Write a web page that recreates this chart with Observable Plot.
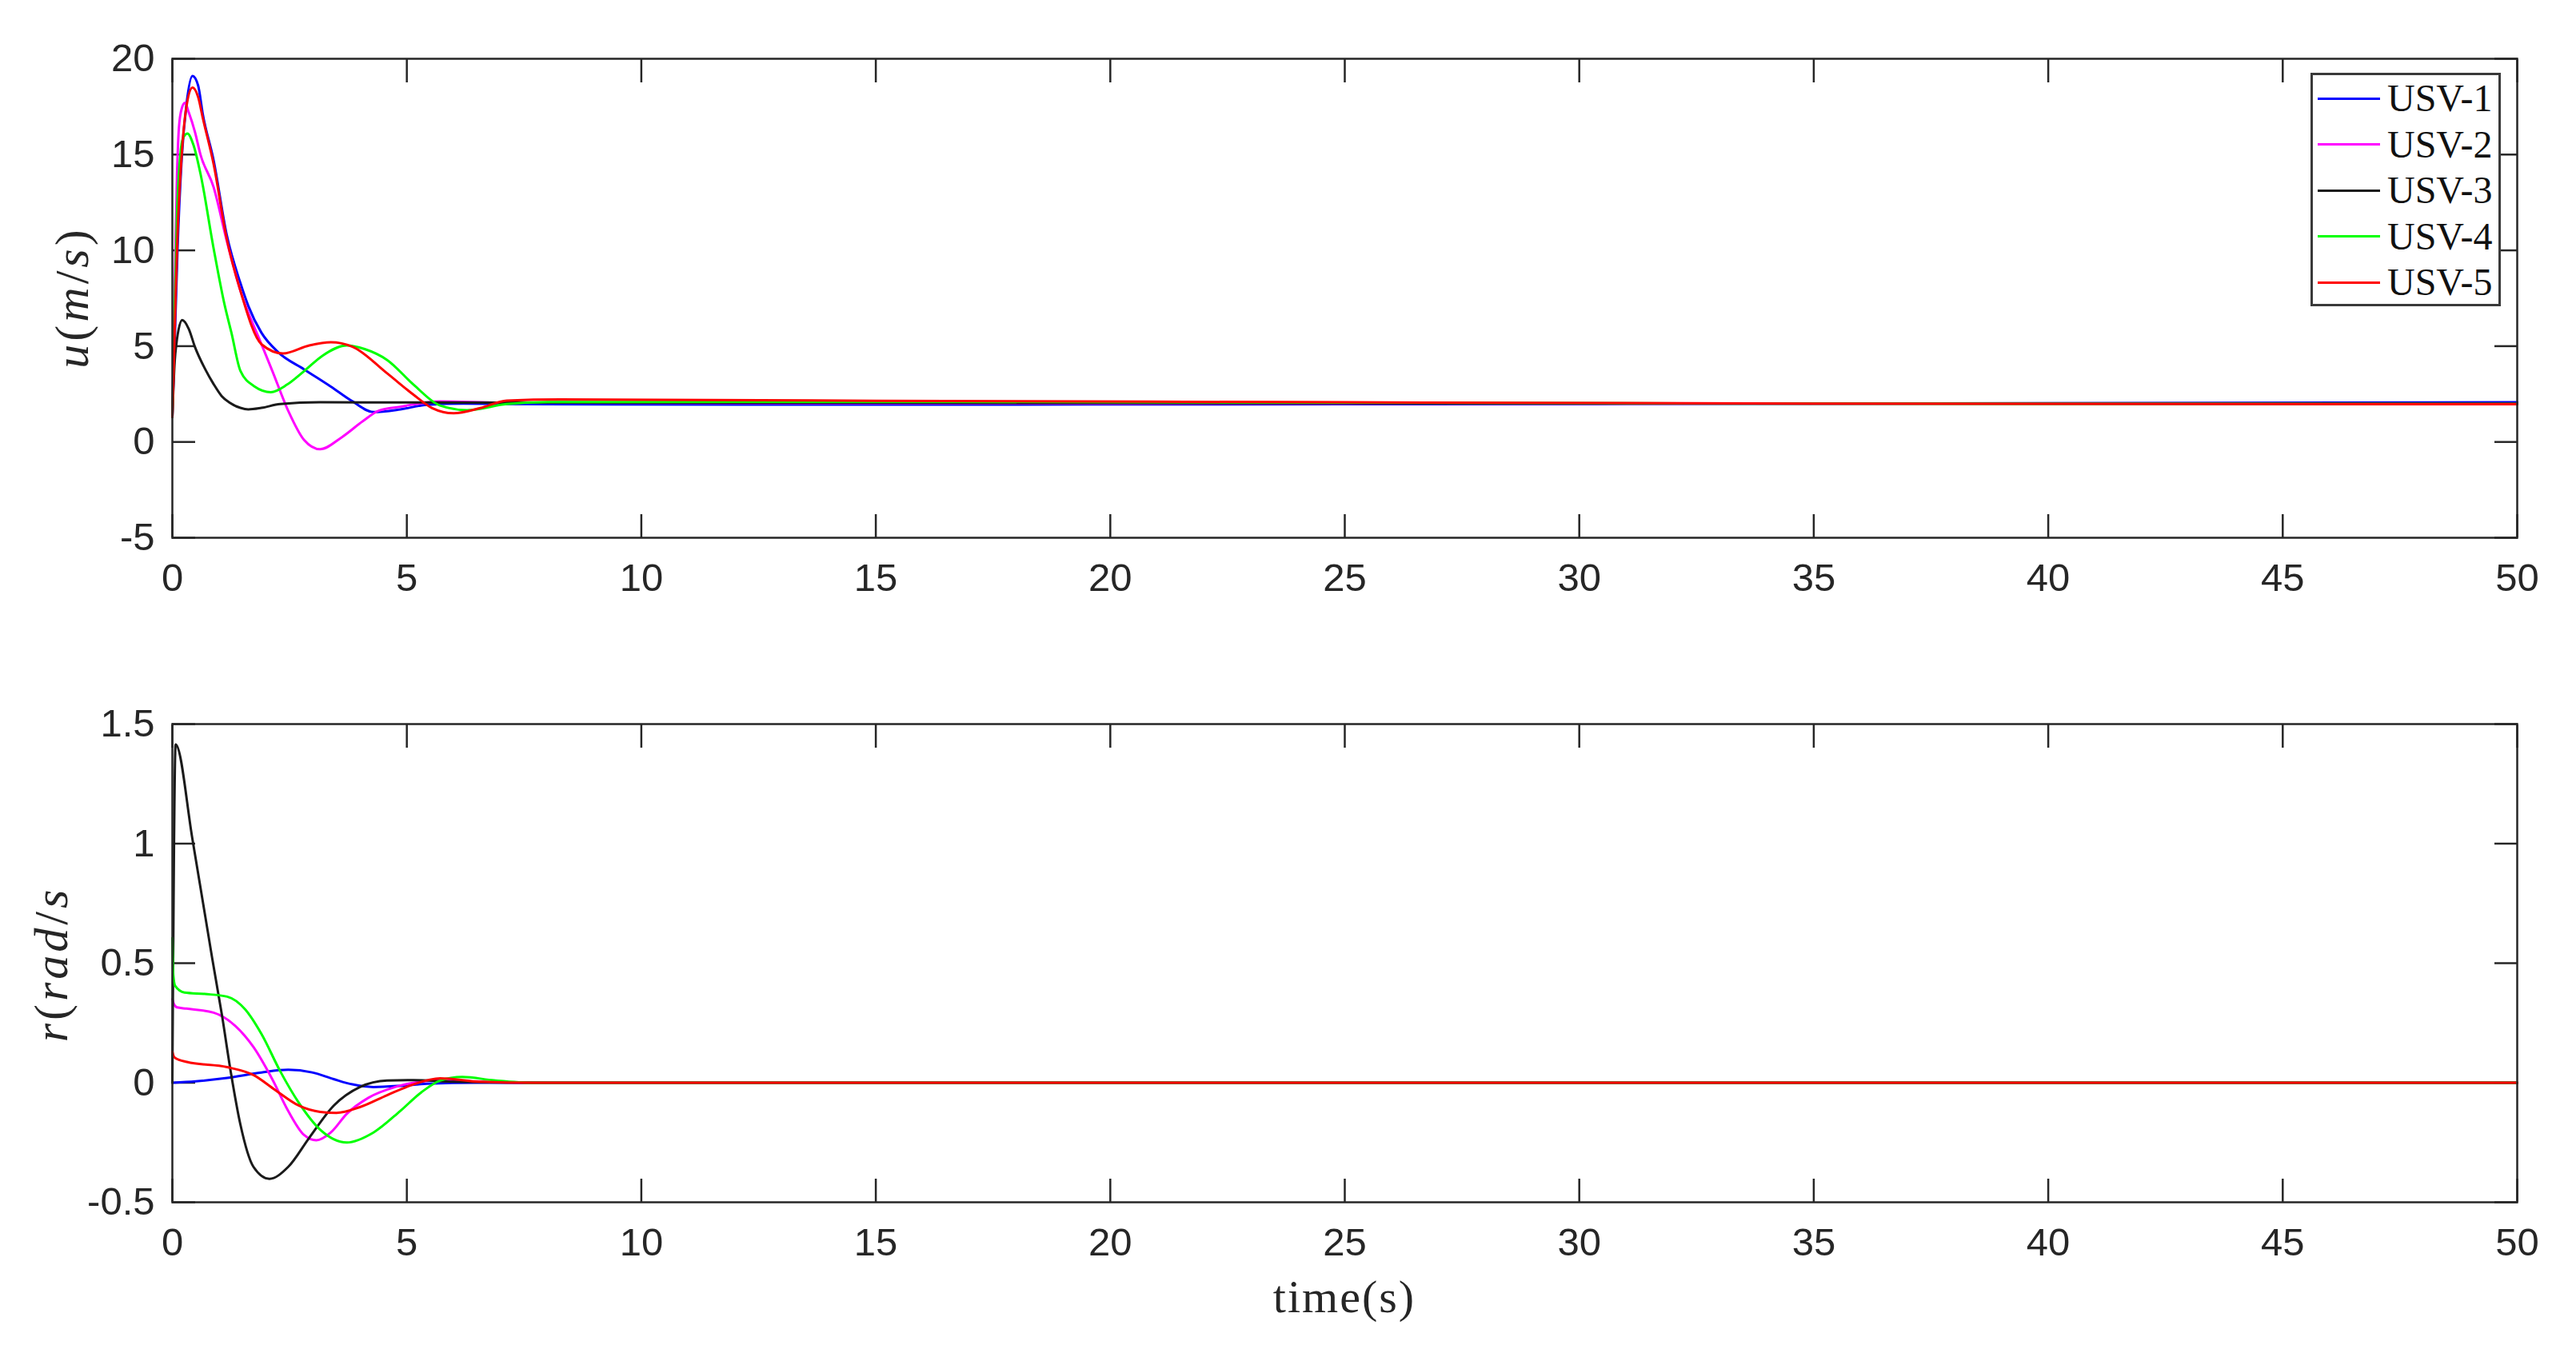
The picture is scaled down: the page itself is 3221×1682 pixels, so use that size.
<!DOCTYPE html>
<html>
<head>
<meta charset="utf-8">
<script src="https://cdn.jsdelivr.net/npm/d3@7"></script>
<script src="https://cdn.jsdelivr.net/npm/@observablehq/plot@0.6"></script>
<style>
  html, body { margin: 0; padding: 0; background: #fff; }
  #root { position: relative; width: 3221px; height: 1682px; overflow: hidden; background: #fff; }
  .panel { position: absolute; left: 0; }
  .ylab { position: absolute; font-family: "Liberation Serif", "Times New Roman", serif; font-size: 60px; color: #262626;
          transform: translate(-50%, -50%) rotate(-90deg); white-space: nowrap; letter-spacing: 4px; line-height: 1; }
  .xlab { position: absolute; font-family: "Liberation Serif", "Times New Roman", serif; font-size: 58px; color: #262626;
          transform: translate(-50%, -50%); white-space: nowrap; letter-spacing: 2px; line-height: 1; }
  #legend { position: absolute; left: 2889px; top: 91px; width: 238px; height: 292px; box-sizing: border-box;
            border: 3px solid #3a3a3a; background: #fff; }
  .lrow { position: absolute; left: 0; height: 50px; display: flex; align-items: center; }
  .lswatch { width: 78px; height: 0; border-top: 3px solid; margin-left: 6px; margin-right: 9px; }
  .ltext { font-family: "Liberation Serif", "Times New Roman", serif; font-size: 48px; color: #111; line-height: 1; }
</style>
</head>
<body>
<div id="root"></div>
<script>
// ---------- data ----------
const names  = ["USV-1", "USV-2", "USV-3", "USV-4", "USV-5"];
const colors = ["#0000ff", "#ff00ff", "#1a1a1a", "#00ff00", "#ff0000"];

const xTicks = [0, 5, 10, 15, 20, 25, 30, 35, 40, 45, 50];
const uTicks = [-5, 0, 5, 10, 15, 20];
const rTicks = [-0.5, 0, 0.5, 1, 1.5];

// surge speed u (m/s)
const u1T = [0, 0.06, 0.11, 0.2, 0.3, 0.43, 0.55, 0.65, 0.88, 1.16, 1.45, 1.62, 1.9, 2.25, 2.81, 3.38, 3.84, 4.29, 4.86, 5.43, 6.2, 8, 15, 25, 35, 50];
const u1V = [1.3, 6.0, 10.0, 14.8, 17.6, 19.1, 18.6, 17.1, 14.7, 10.8, 8.3, 7.1, 5.7, 4.7, 3.79, 2.89, 2.12, 1.56, 1.70, 1.94, 2.0, 1.97, 1.95, 1.97, 2.0, 2.07];

const u2T = [0, 0.05, 0.1, 0.14, 0.2, 0.27, 0.35, 0.48, 0.6, 0.88, 1.16, 1.45, 1.9, 2.13, 2.47, 2.81, 3.15, 3.61, 4.06, 4.4, 4.86, 5.71, 7, 15, 25, 35, 50];
const u2V = [1.3, 8.0, 14.0, 16.4, 17.4, 17.7, 17.2, 16.2, 15.0, 13.3, 10.5, 7.9, 5.1, 3.72, 1.63, 0.1, -0.38, 0.24, 1.08, 1.63, 1.84, 2.12, 2.05, 2.02, 2.0, 2.0, 2.0];

const u3T = [0, 0.05, 0.085, 0.21, 0.35, 0.48, 0.7, 0.88, 1.05, 1.22, 1.45, 1.62, 1.9, 2.3, 3.15, 5, 8, 15, 25, 35, 50];
const u3V = [1.3, 4.2, 5.1, 6.36, 5.9, 4.97, 3.8, 3.02, 2.4, 2.05, 1.78, 1.70, 1.78, 1.98, 2.07, 2.06, 2.05, 2.04, 2.02, 2.0, 2.0];

const u4T = [0, 0.05, 0.1, 0.17, 0.22, 0.32, 0.45, 0.6, 0.88, 1.11, 1.26, 1.45, 1.75, 2.1, 2.45, 2.81, 3.2, 3.72, 4.1, 4.58, 5.14, 5.71, 6.28, 7.13, 8, 15, 25, 35, 50];
const u4V = [1.3, 7.0, 12.0, 15.0, 15.8, 16.1, 15.5, 14.0, 10.1, 7.2, 5.7, 3.72, 2.9, 2.6, 3.0, 3.7, 4.5, 5.04, 4.85, 4.28, 3.0, 1.9, 1.66, 1.98, 2.08, 2.1, 2.05, 2.0, 1.98];

const u5T = [0, 0.06, 0.11, 0.2, 0.3, 0.43, 0.55, 0.65, 0.88, 1.16, 1.45, 1.9, 2.36, 2.92, 3.38, 3.84, 4.58, 5.14, 5.54, 6.0, 6.57, 7.13, 8.27, 15, 25, 35, 50];
const u5V = [1.3, 6.7, 10.8, 15.0, 17.5, 18.5, 18.0, 16.9, 14.5, 10.6, 7.9, 5.1, 4.62, 5.04, 5.2, 4.97, 3.58, 2.47, 1.77, 1.5, 1.77, 2.16, 2.22, 2.15, 2.07, 2.0, 1.97];

// yaw rate r (rad/s)
const r1T = [0, 0.5, 1.17, 1.9, 2.47, 2.98, 3.44, 3.84, 4.29, 4.86, 5.43, 6.5, 8, 50];
const r1V = [0, 0.006, 0.02, 0.043, 0.054, 0.043, 0.015, -0.007, -0.018, -0.013, -0.004, 0, 0, 0];

const r2T = [0, 0.03, 0.1, 0.3, 0.88, 1.34, 1.73, 2.13, 2.47, 2.81, 3.07, 3.38, 3.72, 4.18, 4.75, 5.31, 5.71, 6.5, 8, 50];
const r2V = [0.35, 0.33, 0.315, 0.31, 0.293, 0.238, 0.149, 0.015, -0.118, -0.219, -0.241, -0.208, -0.13, -0.063, -0.018, 0.005, 0.01, 0.003, 0, 0];

const r3T = [0, 0.07, 0.43, 0.85, 1.06, 1.25, 1.45, 1.73, 2.07, 2.47, 2.92, 3.44, 4.0, 4.58, 5.14, 6.0, 8, 50];
const r3V = [0, 1.415, 1.017, 0.52, 0.28, 0.04, -0.174, -0.352, -0.402, -0.352, -0.23, -0.096, -0.018, 0.009, 0.011, 0.004, 0, 0];

const r4T = [0, 0.02, 0.06, 0.26, 0.7, 1.17, 1.56, 1.9, 2.3, 2.7, 3.15, 3.72, 4.29, 4.86, 5.31, 5.71, 6.18, 6.86, 7.71, 50];
const r4V = [0.605, 0.45, 0.405, 0.377, 0.371, 0.36, 0.305, 0.204, 0.048, -0.085, -0.196, -0.25, -0.208, -0.118, -0.04, 0.009, 0.024, 0.01, 0, 0];

const r5T = [0, 0.03, 0.06, 0.31, 1.17, 1.73, 2.19, 2.7, 3.15, 3.5, 4.0, 4.58, 5.14, 5.71, 6.57, 7.7, 50];
const r5V = [0.13, 0.11, 0.104, 0.087, 0.065, 0.032, -0.03, -0.096, -0.122, -0.126, -0.102, -0.052, -0.007, 0.018, 0.004, 0, 0];

// ---------- build ----------
(function () {
  const rows = (T, V) => T.map((t, i) => ({t, v: V[i]}));
  const uSeries = [rows(u1T, u1V), rows(u2T, u2V), rows(u3T, u3V), rows(u4T, u4V), rows(u5T, u5V)];
  const rSeries = [rows(r1T, r1V), rows(r2T, r2V), rows(r3T, r3V), rows(r4T, r4V), rows(r5T, r5V)];

  const axisColor = "#262626";
  const fmt = d => String(d);
  const FS = 49;

  function panel(series, yDomain, yTicks, height, mTop, mBottom) {
    const lines = series.map((data, i) =>
      Plot.line(data, {x: "t", y: "v", stroke: colors[i], strokeWidth: 3, curve: "monotone-x"}));
    return Plot.plot({
      width: 3221,
      height,
      marginLeft: 215,
      marginRight: 74,
      marginTop: mTop,
      marginBottom: mBottom,
      x: {domain: [0, 50]},
      y: {domain: yDomain},
      style: {fontFamily: "'Liberation Sans', Arial, Helvetica, sans-serif", fontSize: FS + "px", color: axisColor, background: "#fff"},
      marks: [
        Plot.axisX(xTicks, {anchor: "bottom", tickSize: 0, tickPadding: 32, tickFormat: fmt, label: null, fontSize: FS}),
        Plot.axisX(xTicks, {anchor: "bottom", tickSize: -29, tickFormat: () => "", label: null, strokeWidth: 2.5}),
        Plot.axisX(xTicks, {anchor: "top", tickSize: -29, tickFormat: () => "", label: null, strokeWidth: 2.5}),
        Plot.axisY(yTicks, {anchor: "left", tickSize: 0, tickPadding: 22, tickFormat: fmt, label: null, fontSize: FS}),
        Plot.axisY(yTicks, {anchor: "left", tickSize: -29, tickFormat: () => "", label: null, strokeWidth: 2.5}),
        Plot.axisY(yTicks, {anchor: "right", tickSize: -29, tickFormat: () => "", label: null, strokeWidth: 2.5}),
        ...lines,
        Plot.frame({stroke: axisColor, strokeWidth: 2.5})
      ]
    });
  }

  const root = document.getElementById("root");

  const topPlot = panel(uSeries, [-5, 20], uTicks, 790, 73, 118);
  topPlot.classList.add("panel"); topPlot.style.top = "0px";
  root.appendChild(topPlot);

  const bottomPlot = panel(rSeries, [-0.5, 1.5], rTicks, 892, 115, 179);
  bottomPlot.classList.add("panel"); bottomPlot.style.top = "790px";
  root.appendChild(bottomPlot);

  const uLab = document.createElement("div");
  uLab.className = "ylab";
  uLab.innerHTML = "<i>u</i>(<i>m</i>/<i>s</i>)";
  uLab.style.left = "90px"; uLab.style.top = "372px";
  root.appendChild(uLab);

  const rLab = document.createElement("div");
  rLab.className = "ylab";
  rLab.innerHTML = "<i>r</i>(<i>rad</i>/<i>s</i>";
  rLab.style.left = "64px"; rLab.style.top = "1206px";
  root.appendChild(rLab);

  const tLab = document.createElement("div");
  tLab.className = "xlab";
  tLab.textContent = "time(s)";
  tLab.style.left = "1681px"; tLab.style.top = "1622px";
  root.appendChild(tLab);

  const legend = document.createElement("div");
  legend.id = "legend";
  names.forEach((n, i) => {
    const row = document.createElement("div");
    row.className = "lrow";
    row.style.top = (32 + i * 57.5 - 25 - 3) + "px";
    const sw = document.createElement("div");
    sw.className = "lswatch";
    sw.style.borderTopColor = colors[i];
    const tx = document.createElement("span");
    tx.className = "ltext";
    tx.textContent = n;
    row.appendChild(sw); row.appendChild(tx);
    legend.appendChild(row);
  });
  root.appendChild(legend);
})();
</script>
</body>
</html>
